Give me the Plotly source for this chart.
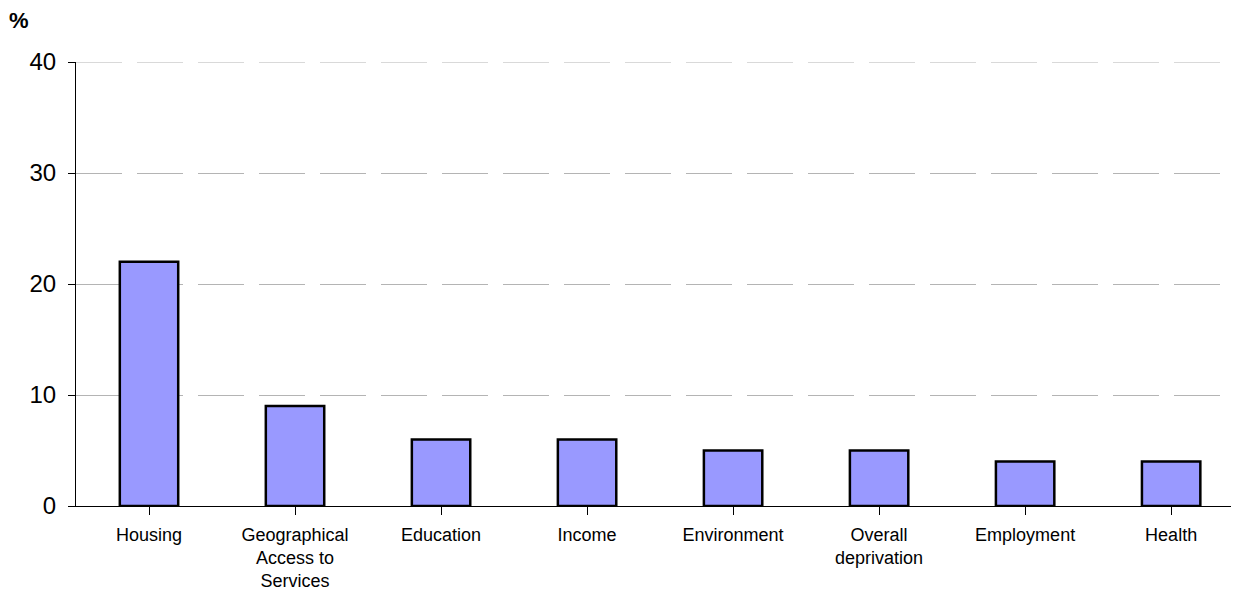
import plotly.graph_objects as go

categories = ["Housing", "Geographical<br>Access to<br>Services", "Education", "Income",
              "Environment", "Overall<br>deprivation", "Employment", "Health"]
values = [22, 9, 6, 6, 5, 5, 4, 4]
y_ticks = [0, 10, 20, 30, 40]

fig = go.Figure(go.Bar(
    x=list(range(len(categories))), y=values, width=0.4,
    marker=dict(color="#9999FF", line=dict(color="black", width=2.5)),
))

grid_color = "#b4b4b4"
grid_dash = "46px,15px"

# page body has an 8px margin, so the figure is sized/offset accordingly
fig.update_layout(
    width=1223, height=584,
    margin=dict(l=68, r=0, t=54, b=86, autoexpand=False),
    plot_bgcolor="white", paper_bgcolor="white",
    font=dict(family="Liberation Sans, Arial, sans-serif", color="black"),
    showlegend=False,
)
fig.update_xaxes(
    range=[-0.5, 7.41], automargin=False,
    tickmode="array", tickvals=list(range(len(categories))), ticktext=categories,
    showline=True, linecolor="black", linewidth=1,
    ticks="outside", tickson="boundaries", ticklen=8, tickcolor="black",
    tickfont=dict(size=18), showgrid=False, ticklabelstandoff=4,
)
fig.update_yaxes(
    range=[0, 40], tickvals=y_ticks, automargin=False,
    showline=True, linecolor="black", linewidth=1,
    ticks="outside", ticklen=7, tickcolor="black", tickfont=dict(size=24),
    showgrid=True, gridcolor=grid_color, gridwidth=1, griddash=grid_dash,
    zeroline=False, ticklabelstandoff=7,
)
# top gridline (Plotly omits the gridline on the range end)
fig.add_shape(type="line", xref="paper", yref="y", x0=0, x1=1, y0=y_ticks[-1], y1=y_ticks[-1],
              line=dict(color=grid_color, width=1, dash=grid_dash), layer="below")
fig.add_annotation(text="<b>%</b>", xref="paper", yref="paper", x=(11 - 68) / 1155, y=1 + 42 / 444,
                   xanchor="center", yanchor="middle", showarrow=False, font=dict(size=22))

fig.write_html("out.html")
